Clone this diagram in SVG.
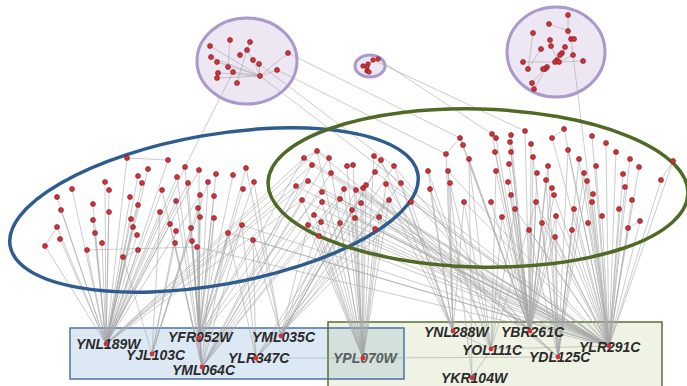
<svg xmlns="http://www.w3.org/2000/svg" width="687" height="386" viewBox="0 0 687 386">
<style>
.e{stroke:#a8a8a8;stroke-width:0.7;fill:none;stroke-opacity:0.85}
.n{fill:#d4303a;stroke:#6e1c1c;stroke-width:0.6}
.h{fill:#d4303a}
.lb{font-family:"Liberation Sans",Arial,sans-serif;font-weight:bold;font-style:italic;font-size:14px;fill:#2b2b2b}
.cl{fill:#ede7f4;stroke:#ab98cc;stroke-width:3}
</style>
<rect width="687" height="386" fill="#fff"/>
<g id="module-rects">
<rect x="70" y="328" width="334" height="51" fill="#dde8f5"/>
<rect x="328" y="322" width="334" height="70" fill="#eef3e3"/>
<rect x="328" y="328" width="76" height="51" fill="#d4e0dc"/>
<rect x="70" y="328" width="334" height="51" fill="none" stroke="#4b73a6" stroke-width="1.5"/>
<rect x="328" y="322" width="334" height="70" fill="none" stroke="#5a6f30" stroke-width="1.5"/>
</g>
<g id="clusters-bg">
<ellipse class="cl" cx="247" cy="61" rx="50" ry="43"/>
<ellipse class="cl" cx="370" cy="66" rx="15" ry="11"/>
<ellipse class="cl" cx="556" cy="52" rx="49" ry="45"/>
</g>
<g id="connectors" class="e">
<path d="M106 344L57 197M106 344L61 210M106 344L57 227M106 344L60 239M106 344L45 246M106 344L72 189M106 344L93 204M106 344L93 220M106 344L95 233M106 344L87 250M106 344L105 182M106 344L109 190M106 344L109 212M106 344L102 243M106 344L127 158M106 344L130 197M106 344L131 219M106 344L133 227M106 344L137 235M106 344L138 205M106 344L138 176M106 344L142 183M106 344L148 169M106 344L123 257M106 344L138 250M106 344L162 190M106 344L160 212M106 344L168 160M106 344L170 224M106 344L176 201M106 344L185 167M106 344L177 177M106 344L188 183M106 344L304 158M106 344L317 151M106 344L296 186M106 344L302 200M106 344L308 181M106 344L312 165M106 344L200 195M106 344L199 170"/>
<path d="M152 354L176 231M152 354L175 243M152 354L191 228M152 354L160 212M152 354L123 257M152 354L198 208M152 354L208 182"/>
<path d="M199 338L199 170M199 338L208 182M199 338L216 174M199 338L200 195M199 338L214 196M199 338L198 208M199 338L200 217M199 338L214 218M199 338L192 241M199 338L197 247M199 338L233 175M199 338L246 168M199 338L243 189M199 338L254 182M199 338L242 225M199 338L228 233M199 338L253 240M199 338L308 181M199 338L322 192M199 338L304 158"/>
<path d="M202 367L176 201M202 367L188 183M202 367L177 177M202 367L214 218M202 367L191 228M202 367L197 247M202 367L192 241M202 367L242 225M202 367L228 233M202 367L312 165M202 367L329 158M202 367L331 173M202 367L340 199M202 367L322 202M202 367L296 186M202 367L185 167M202 367L162 190M202 367L170 224M202 367L175 243M202 367L302 200M202 367L344 189"/>
<path d="M281 336L246 168M281 336L254 182M281 336L253 240M281 336L344 189M281 336L356 190M281 336L375 172M281 336L381 160M281 336L394 166M281 336L401 183M281 336L352 210M281 336L308 225M281 336L321 222"/>
<path d="M256 358L242 225M256 358L253 240M256 358L228 233M256 358L340 223M256 358L355 218M256 358L375 229M256 358L389 200M256 358L411 202M256 358L363 358"/>
<path d="M363 358L317 151M363 358L329 158M363 358L347 166M363 358L353 165M363 358L363 188M363 358L366 185M363 358L356 190M363 358L344 189M363 358L361 203M363 358L352 210M363 358L355 218M363 358L375 229M363 358L379 217M363 358L340 223M363 358L314 215M363 358L308 225M363 358L321 222M363 358L319 236M363 358L386 184M363 358L389 200M363 358L302 200M363 358L322 202M363 358L374 156M363 358L558 357"/>
<path d="M453 331L446 154M453 331L428 171M453 331L430 189M453 331L448 171M453 331L450 183M453 331L401 183M453 331L411 202M453 331L389 200M453 331L464 202M453 331L394 166M453 331L381 160"/>
<path d="M530 331L460 138M530 331L463 145M530 331L469 159M530 331L492 134M530 331L496 138M530 331L495 152M530 331L511 135M530 331L510 142M530 331L511 152M530 331L509 164M530 331L496 171M530 331L508 182M530 331L511 195M530 331L491 202M530 331L515 209M530 331L502 217M530 331L525 131M530 331L531 144M530 331L533 157M530 331L548 166M530 331L537 173M530 331L546 180M530 331L552 188M530 331L554 195M530 331L536 202M530 331L542 223M530 331L529 230M530 331L555 237M530 331L556 216M530 331L317 151M530 331L374 156M530 331L394 166M530 331L356 190M530 331L366 185M530 331L558 357"/>
<path d="M491 349L464 202M491 349L430 189M491 349L450 183M491 349L469 159M491 349L502 217M491 349L515 209M491 349L536 202M491 349L496 171M491 349L472 378M491 349L453 331M491 349L609 346M491 349L428 171M491 349L386 184"/>
<path d="M558 357L548 166M558 357L546 180M558 357L568 150M558 357L579 159M558 357L572 230M558 357L555 237M558 357L556 216M558 357L574 209M558 357L584 173M558 357L587 181M558 357L533 157M558 357L529 230M558 357L542 223M558 357L363 188M558 357L361 203M558 357L389 200"/>
<path d="M609 346L564 129M609 346L552 138M609 346L592 136M609 346L606 143M609 346L568 150M609 346L616 152M609 346L579 159M609 346L630 159M609 346L596 166M609 346L639 167M609 346L584 173M609 346L623 174M609 346L587 181M609 346L625 187M609 346L593 194M609 346L592 202M609 346L632 200M609 346L574 209M609 346L619 209M609 346L602 216M609 346L588 223M609 346L640 221M609 346L572 230M609 346L628 228M609 346L673 161M609 346L661 180M609 346L554 195M609 346L556 216M609 346L555 237M609 346L536 202M609 346L542 223M609 346L529 230M609 346L304 158M609 346L312 165M609 346L331 173M609 346L308 181M609 346L296 186M609 346L322 192M609 346L302 200M609 346L322 202M609 346L340 199M609 346L361 203M609 346L375 172M609 346L386 184M609 346L401 183M609 346L411 202M609 346L314 215M609 346L308 225M609 346L321 222M609 346L340 223M609 346L355 218M609 346L319 236M609 346L379 217M609 346L375 229M609 346L242 225M609 346L253 240M609 346L228 233M609 346L197 247M609 346L571 39M609 346L448 171M609 346L464 202M609 346L515 209"/>
<path d="M472 378L448 171M472 378L469 159"/>
<path d="M233 72L185 167M259 64L394 166M260 76L401 183M277 70L446 154M288 53L460 138M373 60L525 131M378 59L492 134"/>
<path d="M260 76L210 46M260 76L211 57M260 76L217 62M260 76L233 72M260 76L218 73M260 76L217 78M260 76L259 64M260 76L253 60M260 76L277 70M288 53L260 76M230 40L228 67M250 42L247 50M247 50L253 60M247 50L237 83M211 57L217 62"/>
<path d="M373 60L367 67M367 67L369 72M378 59L363 66M368 64L367 71"/>
<path d="M568 15L568 31M549 24L568 31M568 31L571 39M533 33L528 69M559 62L523 62M559 62L583 61M559 62L573 55M559 62L551 46M541 49L528 69M547 67L534 89M545 69L532 83M562 53L565 47M550 40L551 46"/>
<path d="M127 158L168 160M57 227L45 246M87 250L197 247M123 257L138 250M304 158L317 151M317 151L329 158M374 156L381 160M296 186L308 181M460 138L446 154M492 134L496 138M552 138L564 129M673 161L661 180M640 221L628 228M347 166L353 165M463 145L460 138"/>
</g>
<g id="module-ellipses" fill="none" stroke-width="3.5">
<ellipse cx="214" cy="210" rx="207" ry="75" transform="rotate(-10 214 210)" stroke="#2f5c8f"/>
<ellipse cx="478" cy="188" rx="210" ry="79" transform="rotate(1.5 478 188)" stroke="#506a26"/>
</g>
<g id="cluster-1">
<circle class="n" cx="230" cy="40" r="2.5"/><circle class="n" cx="250" cy="42" r="2.5"/><circle class="n" cx="210" cy="46" r="2.5"/><circle class="n" cx="247" cy="50" r="2.5"/><circle class="n" cx="288" cy="53" r="2.5"/><circle class="n" cx="240" cy="55" r="2.5"/><circle class="n" cx="211" cy="57" r="2.5"/><circle class="n" cx="253" cy="60" r="2.5"/><circle class="n" cx="217" cy="62" r="2.5"/><circle class="n" cx="259" cy="64" r="2.5"/><circle class="n" cx="228" cy="67" r="2.5"/><circle class="n" cx="277" cy="70" r="2.5"/><circle class="n" cx="233" cy="72" r="2.5"/><circle class="n" cx="218" cy="73" r="2.5"/><circle class="n" cx="217" cy="78" r="2.5"/><circle class="n" cx="260" cy="76" r="2.5"/><circle class="n" cx="237" cy="83" r="2.5"/>
</g>
<g id="cluster-2">
<circle class="n" cx="373" cy="60" r="2.3"/><circle class="n" cx="378" cy="59" r="2.3"/><circle class="n" cx="368" cy="64" r="2.3"/><circle class="n" cx="363" cy="66" r="2.3"/><circle class="n" cx="367" cy="67" r="2.3"/><circle class="n" cx="367" cy="71" r="2.3"/><circle class="n" cx="369" cy="72" r="2.3"/>
</g>
<g id="cluster-3">
<circle class="n" cx="568" cy="15" r="2.5"/><circle class="n" cx="549" cy="24" r="2.5"/><circle class="n" cx="533" cy="33" r="2.5"/><circle class="n" cx="568" cy="31" r="2.5"/><circle class="n" cx="571" cy="39" r="2.5"/><circle class="n" cx="574" cy="39" r="2.5"/><circle class="n" cx="550" cy="40" r="2.5"/><circle class="n" cx="551" cy="46" r="2.5"/><circle class="n" cx="565" cy="47" r="2.5"/><circle class="n" cx="541" cy="49" r="2.5"/><circle class="n" cx="562" cy="53" r="2.5"/><circle class="n" cx="560" cy="55" r="2.5"/><circle class="n" cx="573" cy="55" r="2.5"/><circle class="n" cx="523" cy="62" r="2.5"/><circle class="n" cx="557" cy="60" r="2.5"/><circle class="n" cx="555" cy="62" r="2.5"/><circle class="n" cx="559" cy="62" r="2.5"/><circle class="n" cx="583" cy="61" r="2.5"/><circle class="n" cx="528" cy="69" r="2.5"/><circle class="n" cx="547" cy="67" r="2.5"/><circle class="n" cx="545" cy="69" r="2.5"/><circle class="n" cx="543" cy="69" r="2.5"/><circle class="n" cx="532" cy="83" r="2.5"/><circle class="n" cx="534" cy="89" r="2.5"/>
</g>
<g id="module-blue-nodes">
<circle class="n" cx="127" cy="158" r="2.5"/><circle class="n" cx="168" cy="160" r="2.5"/><circle class="n" cx="185" cy="167" r="2.5"/><circle class="n" cx="148" cy="169" r="2.5"/><circle class="n" cx="199" cy="170" r="2.5"/><circle class="n" cx="138" cy="176" r="2.5"/><circle class="n" cx="177" cy="177" r="2.5"/><circle class="n" cx="216" cy="174" r="2.5"/><circle class="n" cx="233" cy="175" r="2.5"/><circle class="n" cx="246" cy="168" r="2.5"/><circle class="n" cx="105" cy="182" r="2.5"/><circle class="n" cx="142" cy="183" r="2.5"/><circle class="n" cx="188" cy="183" r="2.5"/><circle class="n" cx="208" cy="182" r="2.5"/><circle class="n" cx="254" cy="182" r="2.5"/><circle class="n" cx="72" cy="189" r="2.5"/><circle class="n" cx="109" cy="190" r="2.5"/><circle class="n" cx="162" cy="190" r="2.5"/><circle class="n" cx="243" cy="189" r="2.5"/><circle class="n" cx="200" cy="195" r="2.5"/><circle class="n" cx="57" cy="197" r="2.5"/><circle class="n" cx="130" cy="197" r="2.5"/><circle class="n" cx="214" cy="196" r="2.5"/><circle class="n" cx="176" cy="201" r="2.5"/><circle class="n" cx="93" cy="204" r="2.5"/><circle class="n" cx="138" cy="205" r="2.5"/><circle class="n" cx="61" cy="210" r="2.5"/><circle class="n" cx="109" cy="212" r="2.5"/><circle class="n" cx="160" cy="212" r="2.5"/><circle class="n" cx="198" cy="208" r="2.5"/><circle class="n" cx="200" cy="217" r="2.5"/><circle class="n" cx="214" cy="218" r="2.5"/><circle class="n" cx="93" cy="220" r="2.5"/><circle class="n" cx="131" cy="219" r="2.5"/><circle class="n" cx="57" cy="227" r="2.5"/><circle class="n" cx="133" cy="227" r="2.5"/><circle class="n" cx="170" cy="224" r="2.5"/><circle class="n" cx="191" cy="228" r="2.5"/><circle class="n" cx="242" cy="225" r="2.5"/><circle class="n" cx="176" cy="231" r="2.5"/><circle class="n" cx="228" cy="233" r="2.5"/><circle class="n" cx="95" cy="233" r="2.5"/><circle class="n" cx="137" cy="235" r="2.5"/><circle class="n" cx="60" cy="239" r="2.5"/><circle class="n" cx="102" cy="243" r="2.5"/><circle class="n" cx="175" cy="243" r="2.5"/><circle class="n" cx="192" cy="241" r="2.5"/><circle class="n" cx="253" cy="240" r="2.5"/><circle class="n" cx="45" cy="246" r="2.5"/><circle class="n" cx="87" cy="250" r="2.5"/><circle class="n" cx="138" cy="250" r="2.5"/><circle class="n" cx="197" cy="247" r="2.5"/><circle class="n" cx="123" cy="257" r="2.5"/>
</g>
<g id="module-overlap-nodes">
<circle class="n" cx="317" cy="151" r="2.5"/><circle class="n" cx="304" cy="158" r="2.5"/><circle class="n" cx="329" cy="158" r="2.5"/><circle class="n" cx="312" cy="165" r="2.5"/><circle class="n" cx="374" cy="156" r="2.5"/><circle class="n" cx="381" cy="160" r="2.5"/><circle class="n" cx="347" cy="166" r="2.5"/><circle class="n" cx="353" cy="165" r="2.5"/><circle class="n" cx="394" cy="166" r="2.5"/><circle class="n" cx="331" cy="173" r="2.5"/><circle class="n" cx="375" cy="172" r="2.5"/><circle class="n" cx="308" cy="181" r="2.5"/><circle class="n" cx="296" cy="186" r="2.5"/><circle class="n" cx="322" cy="192" r="2.5"/><circle class="n" cx="344" cy="189" r="2.5"/><circle class="n" cx="356" cy="190" r="2.5"/><circle class="n" cx="363" cy="188" r="2.5"/><circle class="n" cx="366" cy="185" r="2.5"/><circle class="n" cx="386" cy="184" r="2.5"/><circle class="n" cx="401" cy="183" r="2.5"/><circle class="n" cx="302" cy="200" r="2.5"/><circle class="n" cx="322" cy="202" r="2.5"/><circle class="n" cx="340" cy="199" r="2.5"/><circle class="n" cx="361" cy="203" r="2.5"/><circle class="n" cx="389" cy="200" r="2.5"/><circle class="n" cx="411" cy="202" r="2.5"/><circle class="n" cx="352" cy="210" r="2.5"/><circle class="n" cx="314" cy="215" r="2.5"/><circle class="n" cx="379" cy="217" r="2.5"/><circle class="n" cx="308" cy="225" r="2.5"/><circle class="n" cx="321" cy="222" r="2.5"/><circle class="n" cx="340" cy="223" r="2.5"/><circle class="n" cx="355" cy="218" r="2.5"/><circle class="n" cx="375" cy="229" r="2.5"/><circle class="n" cx="319" cy="236" r="2.5"/>
</g>
<g id="module-green-nodes">
<circle class="n" cx="460" cy="138" r="2.5"/><circle class="n" cx="463" cy="145" r="2.5"/><circle class="n" cx="446" cy="154" r="2.5"/><circle class="n" cx="469" cy="159" r="2.5"/><circle class="n" cx="428" cy="171" r="2.5"/><circle class="n" cx="448" cy="171" r="2.5"/><circle class="n" cx="430" cy="189" r="2.5"/><circle class="n" cx="450" cy="183" r="2.5"/><circle class="n" cx="464" cy="202" r="2.5"/><circle class="n" cx="492" cy="134" r="2.5"/><circle class="n" cx="496" cy="138" r="2.5"/><circle class="n" cx="511" cy="135" r="2.5"/><circle class="n" cx="525" cy="131" r="2.5"/><circle class="n" cx="510" cy="142" r="2.5"/><circle class="n" cx="495" cy="152" r="2.5"/><circle class="n" cx="511" cy="152" r="2.5"/><circle class="n" cx="564" cy="129" r="2.5"/><circle class="n" cx="552" cy="138" r="2.5"/><circle class="n" cx="531" cy="144" r="2.5"/><circle class="n" cx="592" cy="136" r="2.5"/><circle class="n" cx="606" cy="143" r="2.5"/><circle class="n" cx="568" cy="150" r="2.5"/><circle class="n" cx="616" cy="152" r="2.5"/><circle class="n" cx="533" cy="157" r="2.5"/><circle class="n" cx="579" cy="159" r="2.5"/><circle class="n" cx="630" cy="159" r="2.5"/><circle class="n" cx="509" cy="164" r="2.5"/><circle class="n" cx="548" cy="166" r="2.5"/><circle class="n" cx="596" cy="166" r="2.5"/><circle class="n" cx="639" cy="167" r="2.5"/><circle class="n" cx="496" cy="171" r="2.5"/><circle class="n" cx="537" cy="173" r="2.5"/><circle class="n" cx="584" cy="173" r="2.5"/><circle class="n" cx="623" cy="174" r="2.5"/><circle class="n" cx="508" cy="182" r="2.5"/><circle class="n" cx="546" cy="180" r="2.5"/><circle class="n" cx="587" cy="181" r="2.5"/><circle class="n" cx="673" cy="161" r="2.5"/><circle class="n" cx="661" cy="180" r="2.5"/><circle class="n" cx="552" cy="188" r="2.5"/><circle class="n" cx="625" cy="187" r="2.5"/><circle class="n" cx="511" cy="195" r="2.5"/><circle class="n" cx="554" cy="195" r="2.5"/><circle class="n" cx="593" cy="194" r="2.5"/><circle class="n" cx="491" cy="202" r="2.5"/><circle class="n" cx="536" cy="202" r="2.5"/><circle class="n" cx="592" cy="202" r="2.5"/><circle class="n" cx="632" cy="200" r="2.5"/><circle class="n" cx="515" cy="209" r="2.5"/><circle class="n" cx="574" cy="209" r="2.5"/><circle class="n" cx="619" cy="209" r="2.5"/><circle class="n" cx="502" cy="217" r="2.5"/><circle class="n" cx="556" cy="216" r="2.5"/><circle class="n" cx="602" cy="216" r="2.5"/><circle class="n" cx="542" cy="223" r="2.5"/><circle class="n" cx="588" cy="223" r="2.5"/><circle class="n" cx="640" cy="221" r="2.5"/><circle class="n" cx="529" cy="230" r="2.5"/><circle class="n" cx="572" cy="230" r="2.5"/><circle class="n" cx="628" cy="228" r="2.5"/><circle class="n" cx="555" cy="237" r="2.5"/>
</g>
<g id="YNL189W"><text class="lb" x="76" y="349">YNL189W</text><circle class="h" cx="106" cy="344" r="2.4"/></g>
<g id="YJL103C"><text class="lb" x="126" y="360">YJL103C</text><circle class="h" cx="152" cy="354" r="2.4"/></g>
<g id="YFR052W"><text class="lb" x="168" y="342">YFR052W</text><circle class="h" cx="199" cy="338" r="2.4"/></g>
<g id="YML035C"><text class="lb" x="252" y="342">YML035C</text><circle class="h" cx="281" cy="336" r="2.4"/></g>
<g id="YLR347C"><text class="lb" x="228" y="363">YLR347C</text><circle class="h" cx="256" cy="358" r="2.4"/></g>
<g id="YML064C"><text class="lb" x="172" y="375">YML064C</text><circle class="h" cx="202" cy="367" r="2.4"/></g>
<g id="YPL070W"><text class="lb" x="333" y="363" style="fill:#56605c">YPL070W</text><circle class="h" cx="363" cy="358" r="2.4"/></g>
<g id="YNL288W"><text class="lb" x="424" y="337">YNL288W</text><circle class="h" cx="453" cy="331" r="2.4"/></g>
<g id="YBR261C"><text class="lb" x="501" y="337">YBR261C</text><circle class="h" cx="530" cy="331" r="2.4"/></g>
<g id="YOL111C"><text class="lb" x="462" y="355">YOL111C</text><circle class="h" cx="491" cy="349" r="2.4"/></g>
<g id="YDL125C"><text class="lb" x="529" y="362">YDL125C</text><circle class="h" cx="558" cy="357" r="2.4"/></g>
<g id="YLR291C"><text class="lb" x="579" y="352">YLR291C</text><circle class="h" cx="609" cy="346" r="2.4"/></g>
<g id="YKR104W"><text class="lb" x="441" y="383">YKR104W</text><circle class="h" cx="472" cy="378" r="2.4"/></g>
</svg>
